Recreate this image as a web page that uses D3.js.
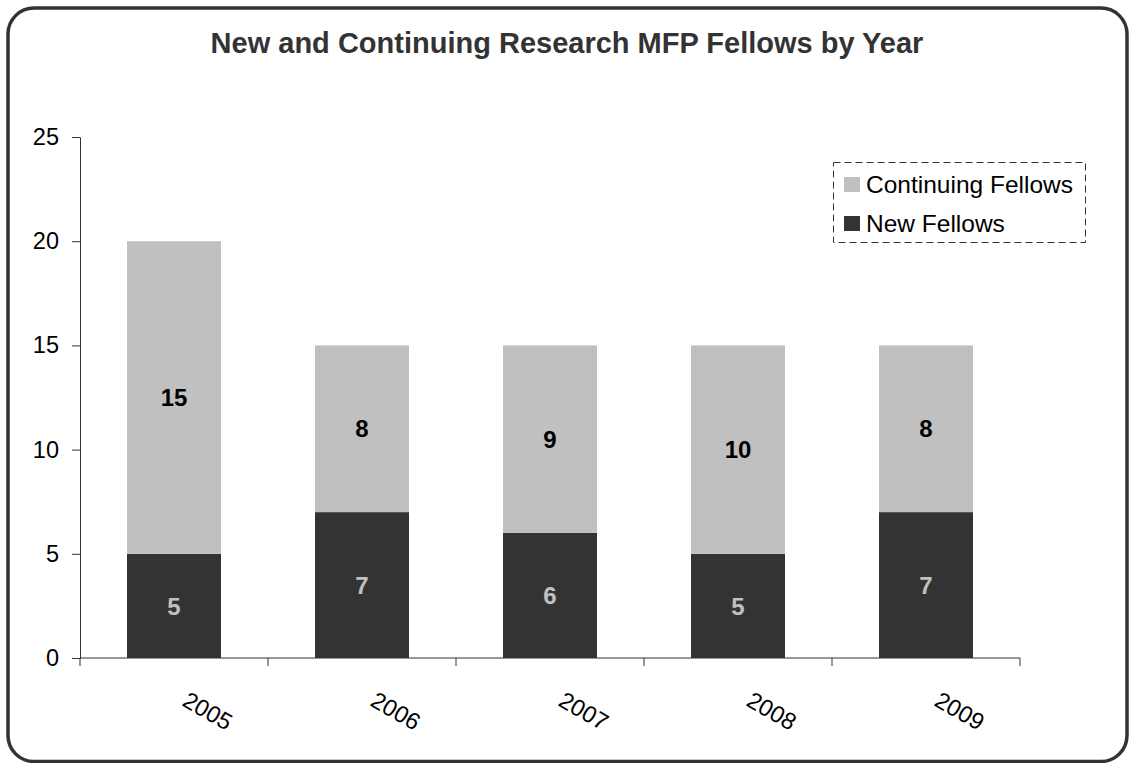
<!DOCTYPE html>
<html><head><meta charset="utf-8">
<script src="https://cdn.jsdelivr.net/npm/d3@7"></script>
<style>body{margin:0;background:#fff}svg{display:block}text{font-family:"Liberation Sans",Arial,sans-serif}</style>
</head><body>
<svg id="c" width="1129" height="763"></svg>
<script>
const years = ["2005","2006","2007","2008","2009"];
const newFellows = [5,7,6,5,7];
const continuingFellows = [15,8,9,10,8];
const yTicks = [0,5,10,15,20,25];
const seriesNames = ["Continuing Fellows","New Fellows"];
const colors = {new:"#333333", cont:"#c0c0c0"};

const svg = d3.select("#c");
svg.append("rect").attr("x",8).attr("y",8).attr("width",1119).attr("height",753.5)
  .attr("rx",26).attr("ry",26).attr("fill","#fff").attr("stroke","#333").attr("stroke-width",3.5);

svg.append("text").attr("x",567).attr("y",53).attr("text-anchor","middle")
  .attr("font-size",29).attr("font-weight","bold").attr("fill","#333")
  .text("New and Continuing Research MFP Fellows by Year");

const x = d3.scaleBand().domain(years).range([80,1020]).paddingInner(0.5).paddingOuter(0.25);
const y = d3.scaleLinear().domain([0,25]).range([658,137]);

const rows = years.map((yr,i)=>({yr, n:newFellows[i], c:continuingFellows[i]}));

const g = svg.append("g");
g.selectAll(".bn").data(rows).join("rect").attr("x",d=>x(d.yr)).attr("width",x.bandwidth())
  .attr("y",d=>y(d.n)).attr("height",d=>y(0)-y(d.n)).attr("fill",colors.new);
g.selectAll(".bc").data(rows).join("rect").attr("x",d=>x(d.yr)).attr("width",x.bandwidth())
  .attr("y",d=>y(d.n+d.c)).attr("height",d=>y(d.n)-y(d.n+d.c)).attr("fill",colors.cont);

g.selectAll(".ln").data(rows).join("text").attr("x",d=>x(d.yr)+x.bandwidth()/2)
  .attr("y",d=>y(d.n/2)).attr("dy","0.36em").attr("text-anchor","middle")
  .attr("font-size",24).attr("font-weight","bold").attr("fill","#c0c0c0").text(d=>d.n);
g.selectAll(".lc").data(rows).join("text").attr("x",d=>x(d.yr)+x.bandwidth()/2)
  .attr("y",d=>y(d.n+d.c/2)).attr("dy","0.36em").attr("text-anchor","middle")
  .attr("font-size",24).attr("font-weight","bold").attr("fill","#000").text(d=>d.c);

// y axis
const ya = svg.append("g").attr("transform","translate(80,0)")
  .call(d3.axisLeft(y).tickValues(yTicks).tickSize(8).tickPadding(13));
ya.select(".domain").attr("stroke","#333");
ya.selectAll(".tick line").attr("stroke","#333");
ya.selectAll("text").attr("font-size",23.5).attr("fill","#000").style("font-family","Liberation Sans, Arial, sans-serif");

// x axis: line and ticks between categories
const xa = svg.append("g");
xa.append("line").attr("x1",80).attr("x2",1020).attr("y1",y(0)).attr("y2",y(0)).attr("stroke","#333");
const bounds = d3.range(years.length+1).map(i=>80+i*(940/years.length));
xa.selectAll(".xt").data(bounds).join("line").attr("x1",d=>d).attr("x2",d=>d)
  .attr("y1",y(0)).attr("y2",y(0)+8).attr("stroke","#333");
xa.selectAll(".xl").data(years).join("text")
  .attr("transform",d=>`translate(${x(d)+x.bandwidth()/2+7},${y(0)+47}) rotate(30)`)
  .attr("font-size",23.5).attr("fill","#000").text(d=>d);

// legend
const lg = svg.append("g");
lg.append("rect").attr("x",833.5).attr("y",162.5).attr("width",252).attr("height",80)
  .attr("fill","#fff").attr("stroke","#333").attr("stroke-dasharray","7,4");
const leg = [{name:seriesNames[0], col:colors.cont, yy:184.5},{name:seriesNames[1], col:colors.new, yy:223.5}];
lg.selectAll(".ls").data(leg).join("rect").attr("x",844).attr("y",d=>d.yy-7.5).attr("width",16).attr("height",15).attr("fill",d=>d.col);
lg.selectAll(".lt").data(leg).join("text").attr("x",866).attr("y",d=>d.yy).attr("dy","0.36em")
  .attr("font-size",24.5).attr("fill","#000").text(d=>d.name);
</script>
</body></html>
